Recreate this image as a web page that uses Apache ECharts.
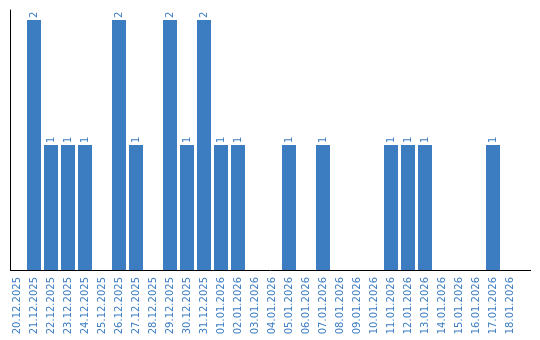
<!DOCTYPE html>
<html><head><meta charset="utf-8">
<script src="https://cdn.jsdelivr.net/npm/echarts@6/dist/echarts.min.js"></script>
<style>html,body{margin:0;padding:0;background:#fff}#c{width:540px;height:340px}</style>
</head><body><div id="c"></div>
<script>
const categories = ['20.12.2025','21.12.2025','22.12.2025','23.12.2025','24.12.2025','25.12.2025','26.12.2025','27.12.2025','28.12.2025','29.12.2025','30.12.2025','31.12.2025','01.01.2026','02.01.2026','03.01.2026','04.01.2026','05.01.2026','06.01.2026','07.01.2026','08.01.2026','09.01.2026','10.01.2026','11.01.2026','12.01.2026','13.01.2026','14.01.2026','15.01.2026','16.01.2026','17.01.2026','18.01.2026'];
const values = [0,2,1,1,1,0,2,1,0,2,1,2,1,1,0,0,1,0,1,0,0,0,1,1,1,0,0,0,1,0];
const chart = echarts.init(document.getElementById('c'));
chart.setOption({
  animation:false,
  grid:{left:8.5,right:21.5,top:10,bottom:70},
  graphic:[{type:'line',shape:{x1:10,y1:270.5,x2:531,y2:270.5},style:{stroke:'#000',lineWidth:1},z:10}],
  xAxis:{type:'category',data:categories,
    axisLine:{show:false},axisTick:{show:false},
    axisLabel:{rotate:90,interval:0,color:'#3c7dc2',fontFamily:'DejaVu Sans',fontSize:10,margin:7}},
  yAxis:{type:'value',min:0,max:2.08,offset:-2,axisLine:{show:true,lineStyle:{color:'#000',width:1}},
    axisLabel:{show:false},splitLine:{show:false},axisTick:{show:false}},
  series:[{type:'bar',data:values.map(v=>v===0?{value:v,label:{show:false}}:v),barWidth:14,
    itemStyle:{color:'#3c7dc2'},
    label:{show:true,position:'top',rotate:90,align:'left',verticalAlign:'middle',distance:2,
      color:'#3c7dc2',fontFamily:'DejaVu Sans',fontSize:10}}]
});
</script></body></html>
